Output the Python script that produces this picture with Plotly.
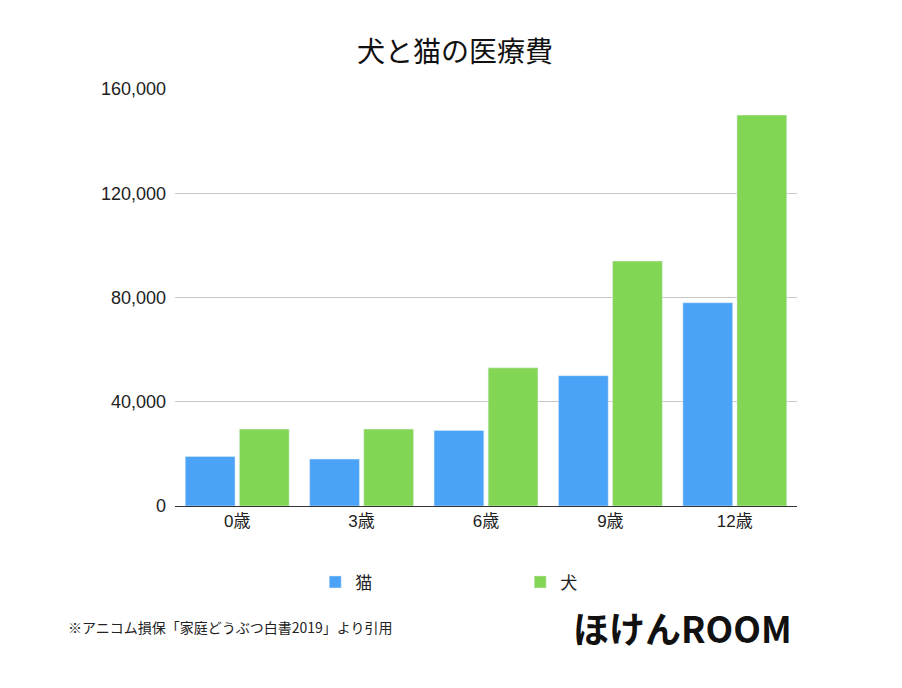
import plotly.graph_objects as go

categories = ["0歳", "3歳", "6歳", "9歳", "12歳"]
cat_values = [19000, 18000, 29000, 50000, 78000]
dog_values = [29500, 29500, 53000, 94000, 150000]
tick_vals = [0, 40000, 80000, 120000, 160000]
tick_text = ["0", "40,000", "80,000", "120,000", "160,000"]

F = "Liberation Sans, Noto Sans CJK JP"
fig = go.Figure()
fig.add_bar(x=categories, y=cat_values, name="猫", marker_color="#4aa3f7")
fig.add_bar(x=categories, y=dog_values, name="犬", marker_color="#83d653")
fig.update_layout(
    width=894, height=680, paper_bgcolor="white", plot_bgcolor="white",
    margin=dict(l=167, r=105, t=81, b=182),
    font=dict(family=F, size=16, color="#222"),
    title=dict(text="犬と猫の医療費", x=0.5, xanchor="center", y=0.935, yanchor="middle",
               font=dict(size=28, color="#111", family="Noto Sans CJK JP")),
    bargap=0.13, bargroupgap=0.08,
    legend=dict(orientation="h", x=0.555, xanchor="center", y=-0.14, yanchor="top",
                traceorder="normal", entrywidth=160, font=dict(size=17)),
    xaxis=dict(showline=True, linecolor="#333", linewidth=1, ticks="", tickfont=dict(size=17)),
    yaxis=dict(range=[0, 160000], tickvals=tick_vals, ticktext=tick_text, gridcolor="#c8c8c8",
               zeroline=False, ticks="", tickfont=dict(size=18), ticklabelstandoff=8),
    showlegend=True,
)
fig.add_annotation(text="※アニコム損保「家庭どうぶつ白書2019」より引用", xref="paper", yref="paper",
                   x=-0.175, y=-0.29, xanchor="left", yanchor="middle", showarrow=False,
                   font=dict(size=14, color="#222", family="Noto Sans CJK JP"))
fig.add_annotation(text="<b>ほけんROOM</b>", xref="paper", yref="paper",
                   x=0.995, y=-0.29, xanchor="right", yanchor="middle", showarrow=False,
                   font=dict(size=36, color="#111", family="Noto Sans CJK JP"))
fig.write_html("out.html")
